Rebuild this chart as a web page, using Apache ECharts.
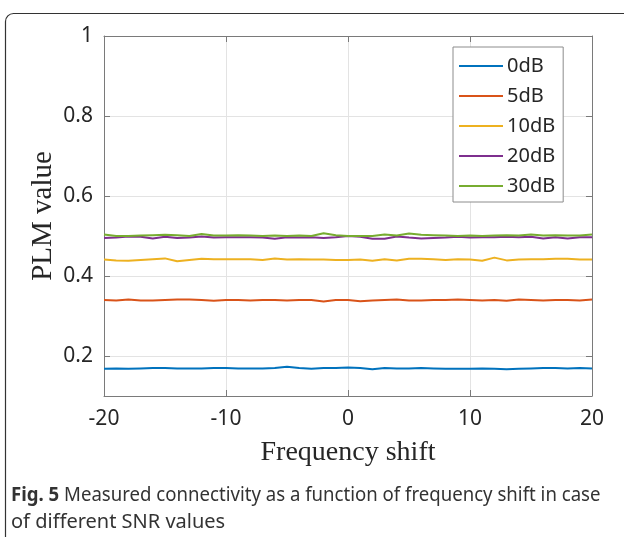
<!DOCTYPE html>
<html>
<head>
<meta charset="utf-8">
<script src="https://cdn.jsdelivr.net/npm/echarts@6/dist/echarts.min.js"></script>
<style>
    html, body { margin: 0; padding: 0; background: #fff; }
    #chart { width: 624px; height: 537px; }
</style>
</head>
<body>
<div id="chart"></div>
<script>
// frequency shift, -20 .. 20
let shifts = [-20, -19, -18, -17, -16, -15, -14, -13, -12, -11, -10, -9, -8, -7, -6, -5, -4, -3, -2, -1,
    0, 1, 2, 3, 4, 5, 6, 7, 8, 9, 10, 11, 12, 13, 14, 15, 16, 17, 18, 19, 20];

let snr0 = [0.168, 0.169, 0.168, 0.169, 0.170, 0.170, 0.169, 0.169, 0.169, 0.170, 0.170, 0.169, 0.169, 0.169, 0.170, 0.173, 0.170, 0.168, 0.170, 0.170,
    0.171, 0.170, 0.167, 0.170, 0.169, 0.169, 0.170, 0.169, 0.168, 0.168, 0.168, 0.169, 0.168, 0.167, 0.168, 0.169, 0.170, 0.170, 0.169, 0.170, 0.169];
let snr5 = [0.340, 0.339, 0.341, 0.339, 0.339, 0.340, 0.341, 0.341, 0.340, 0.338, 0.340, 0.340, 0.339, 0.340, 0.340, 0.339, 0.340, 0.340, 0.336, 0.340,
    0.340, 0.337, 0.339, 0.340, 0.341, 0.339, 0.339, 0.340, 0.340, 0.341, 0.340, 0.339, 0.340, 0.338, 0.341, 0.340, 0.339, 0.340, 0.340, 0.339, 0.341];
let snr10 = [0.441, 0.439, 0.438, 0.440, 0.442, 0.444, 0.437, 0.440, 0.443, 0.442, 0.442, 0.442, 0.442, 0.440, 0.444, 0.441, 0.442, 0.441, 0.441, 0.440,
    0.440, 0.441, 0.438, 0.442, 0.439, 0.443, 0.443, 0.442, 0.440, 0.442, 0.441, 0.438, 0.446, 0.439, 0.441, 0.442, 0.442, 0.443, 0.443, 0.441, 0.441];
let snr20 = [0.495, 0.496, 0.499, 0.498, 0.494, 0.498, 0.495, 0.496, 0.499, 0.496, 0.497, 0.497, 0.497, 0.496, 0.493, 0.497, 0.496, 0.497, 0.495, 0.497,
    0.500, 0.498, 0.493, 0.493, 0.499, 0.496, 0.494, 0.495, 0.496, 0.498, 0.496, 0.497, 0.497, 0.498, 0.497, 0.498, 0.494, 0.497, 0.494, 0.497, 0.497];
let snr30 = [0.504, 0.500, 0.500, 0.501, 0.502, 0.503, 0.502, 0.500, 0.505, 0.501, 0.501, 0.502, 0.501, 0.500, 0.501, 0.500, 0.501, 0.500, 0.507, 0.502,
    0.500, 0.500, 0.500, 0.504, 0.501, 0.506, 0.503, 0.502, 0.501, 0.500, 0.501, 0.500, 0.501, 0.502, 0.501, 0.504, 0.501, 0.502, 0.501, 0.501, 0.504];

let seriesNames = ["0dB", "5dB", "10dB", "20dB", "30dB"];
let seriesColors = ["#0072bd", "#d95319", "#edb120", "#7e2f8e", "#77ac30"];
let yTicks = [0.2, 0.4, 0.6, 0.8, 1];

let chart = echarts.init(document.getElementById("chart"), null, { renderer: "canvas" });

function pairs(values) {
    return shifts.map((x, i) => [x, values[i]]);
}

let axisColor = "#7a7a7a";
let labelFont = "'Noto Sans', sans-serif";
let mathFont = "'Liberation Serif', 'DejaVu Serif', serif";

let option = {
    animation: false,
    backgroundColor: "#fff",
    color: seriesColors,
    grid: {
        left: 104,
        right: 32,
        top: 36,
        bottom: 141,
        containLabel: false
    },
    legend: {
        orient: "vertical",
        left: 453,
        top: 47,
        padding: [9, 8, 6, 5],
        itemWidth: 44,
        itemHeight: 20,
        itemGap: 10,
        backgroundColor: "#fff",
        borderColor: "#8c8c8c",
        borderWidth: 1,
        borderRadius: 0,
        // only the line in the legend, no marker
        itemStyle: { opacity: 0 },
        lineStyle: { width: 2 },
        textStyle: {
            fontFamily: labelFont,
            fontSize: 20,
            color: "#262626",
            padding: [0, 0, 0, -1]
        },
        data: seriesNames
    },
    xAxis: [
        {
            type: "value",
            min: -20,
            max: 20,
            interval: 10,
            name: "Frequency shift",
            nameLocation: "middle",
            nameGap: 57,
            nameMoveOverlap: false,
            nameTextStyle: { fontFamily: mathFont, fontSize: 28, color: "#262626", verticalAlign: "middle" },
            axisLine: { show: true, onZero: false, lineStyle: { color: axisColor, width: 1 } },
            axisTick: { show: true, inside: true, length: 6, lineStyle: { color: axisColor } },
            axisLabel: { margin: 13, fontFamily: labelFont, fontSize: 21, color: "#262626" },
            splitLine: { show: true, lineStyle: { color: "#e3e3e3", width: 1 } }
        },
        {
            type: "value",
            position: "top",
            min: -20,
            max: 20,
            interval: 10,
            axisLine: { show: true, onZero: false, lineStyle: { color: axisColor, width: 1 } },
            axisTick: { show: true, inside: true, length: 6, lineStyle: { color: axisColor } },
            axisLabel: { show: false },
            splitLine: { show: false }
        }
    ],
    yAxis: [
        {
            type: "value",
            min: 0.1,
            max: 1,
            name: "PLM value",
            nameLocation: "middle",
            nameGap: 61,
            nameMoveOverlap: false,
            nameTextStyle: { fontFamily: mathFont, fontSize: 29, color: "#262626", verticalAlign: "middle" },
            axisLine: { show: true, onZero: false, lineStyle: { color: axisColor, width: 1 } },
            axisTick: { show: true, inside: true, length: 6, customValues: yTicks, lineStyle: { color: axisColor } },
            axisLabel: { margin: 11, customValues: yTicks, fontFamily: labelFont, fontSize: 21, color: "#262626" },
            splitLine: { show: true, lineStyle: { color: "#e3e3e3", width: 1 } }
        },
        {
            type: "value",
            position: "right",
            min: 0.1,
            max: 1,
            axisLine: { show: true, onZero: false, lineStyle: { color: axisColor, width: 1 } },
            axisTick: { show: true, inside: true, length: 6, customValues: yTicks, lineStyle: { color: axisColor } },
            axisLabel: { show: false },
            splitLine: { show: false }
        }
    ],
    series: [snr0, snr5, snr10, snr20, snr30].map((values, i) => ({
        name: seriesNames[i],
        type: "line",
        data: pairs(values),
        showSymbol: false,
        symbol: "none",
        lineStyle: { width: 2, color: seriesColors[i] },
        itemStyle: { color: seriesColors[i] },
        z: 2 + i
    })),
    graphic: [
        {
            type: "rect",
            shape: { x: 5.5, y: 13.5, width: 700, height: 600, r: 8 },
            style: { fill: "none", stroke: "#333", lineWidth: 1.2 },
            silent: true
        },
        {
            type: "text",
            x: 11,
            y: 495,
            scaleX: 0.93,
            style: {
                text: "{b|Fig. 5} Measured connectivity as a function of frequency shift in case",
                fontFamily: labelFont,
                fontSize: 20,
                fill: "#333",
                verticalAlign: "middle",
                rich: {
                    b: { fontFamily: labelFont, fontSize: 20, fontWeight: "bold", fill: "#333" }
                }
            }
        },
        {
            type: "text",
            x: 11,
            y: 522,
            style: {
                text: "of different SNR values",
                fontFamily: labelFont,
                fontSize: 20,
                fill: "#333",
                verticalAlign: "middle"
            }
        }
    ]
};

chart.setOption(option);
</script>
</body>
</html>
